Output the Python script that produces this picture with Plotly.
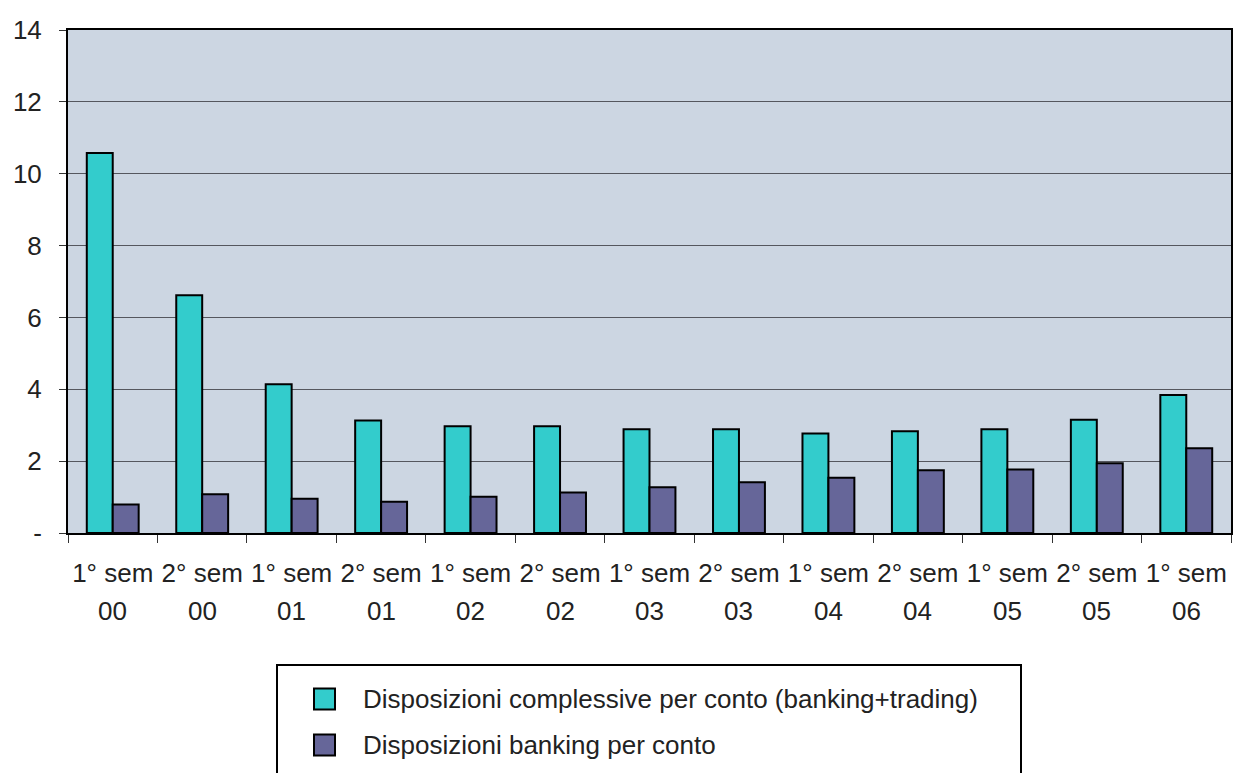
import plotly.graph_objects as go

# Half-year periods (two-line tick labels: semester on top, year below)
semesters = ["1° sem", "2° sem", "1° sem", "2° sem", "1° sem", "2° sem", "1° sem",
             "2° sem", "1° sem", "2° sem", "1° sem", "2° sem", "1° sem"]
years = ["00", "00", "01", "01", "02", "02", "03", "03", "04", "04", "05", "05", "06"]
categories = [f"{s} {y}" for s, y in zip(semesters, years)]

# Series values
total_per_account = [10.58, 6.62, 4.14, 3.13, 2.97, 2.97, 2.89, 2.89, 2.77, 2.83, 2.89, 3.15, 3.84]
banking_per_account = [0.79, 1.08, 0.95, 0.87, 1.01, 1.13, 1.27, 1.41, 1.54, 1.75, 1.77, 1.94, 2.36]

series_names = ["Disposizioni complessive per conto (banking+trading)",
                "Disposizioni banking per conto"]
series_colors = ["#33CCCC", "#666699"]

# Y axis ticks
y_tickvals = [0, 2, 4, 6, 8, 10, 12, 14]
y_ticktext = ["-", "2", "4", "6", "8", "10", "12", "14"]

W, H = 1248, 773
ML, MR, MT, MB = 68, 17, 30, 240
PW, PH = W - ML - MR, H - MT - MB

FONT = dict(family="Liberation Sans, Arial, sans-serif", size=26, color="#222222")


def px_x(p):
    return (p - ML) / PW


def px_y(p):
    return (H - MB - p) / PH


fig = go.Figure()
for name, vals, col in zip(series_names, [total_per_account, banking_per_account], series_colors):
    fig.add_trace(go.Bar(
        x=categories, y=vals, name=name,
        marker=dict(color=col, line=dict(color="#000000", width=2)),
        showlegend=False,
    ))

annotations = []
# Second line of each category label (year)
for cat, yr in zip(categories, years):
    annotations.append(dict(text=yr, xref="x", yref="paper", x=cat, y=px_y(611),
                            xanchor="center", yanchor="middle", showarrow=False, font=FONT))

# Boxed legend below the plot
shapes = [dict(type="rect", xref="paper", yref="paper",
               x0=px_x(277), x1=px_x(1021), y0=px_y(665), y1=px_y(790),
               line=dict(color="#000000", width=2), fillcolor="white", layer="above")]
row_centers = [699, 745]
for name, col, cy in zip(series_names, series_colors, row_centers):
    shapes.append(dict(type="rect", xref="paper", yref="paper",
                       x0=px_x(314), x1=px_x(335), y0=px_y(cy - 10.5), y1=px_y(cy + 10.5),
                       line=dict(color="#000000", width=2), fillcolor=col, layer="above"))
    annotations.append(dict(text=name, xref="paper", yref="paper",
                            x=px_x(361), y=px_y(cy), xanchor="left", yanchor="middle",
                            showarrow=False, font=FONT))

fig.update_layout(
    width=W, height=H,
    margin=dict(l=ML, r=MR, t=MT, b=MB, pad=0),
    paper_bgcolor="white",
    plot_bgcolor="#CCD6E2",
    barmode="group",
    bargap=0.42,
    bargroupgap=0,
    font=FONT,
    shapes=shapes,
    annotations=annotations,
    xaxis=dict(
        type="category",
        tickvals=categories, ticktext=semesters, tickangle=0, automargin=False,
        showline=True, linecolor="#000000", linewidth=2, mirror=True,
        ticks="outside", tickson="boundaries", ticklen=8, tickcolor="#333333", tickwidth=1,
        showgrid=False, tickfont=FONT, ticklabelstandoff=16,
    ),
    yaxis=dict(
        range=[0, 14], automargin=False,
        tickvals=y_tickvals, ticktext=y_ticktext,
        showline=True, linecolor="#000000", linewidth=2, mirror=True,
        ticks="outside", ticklen=7, tickcolor="#333333", tickwidth=1,
        showgrid=True, gridcolor="#55575E", gridwidth=1.2,
        zeroline=False, tickfont=FONT, ticklabelstandoff=12,
    ),
)

fig.write_html("out.html")
